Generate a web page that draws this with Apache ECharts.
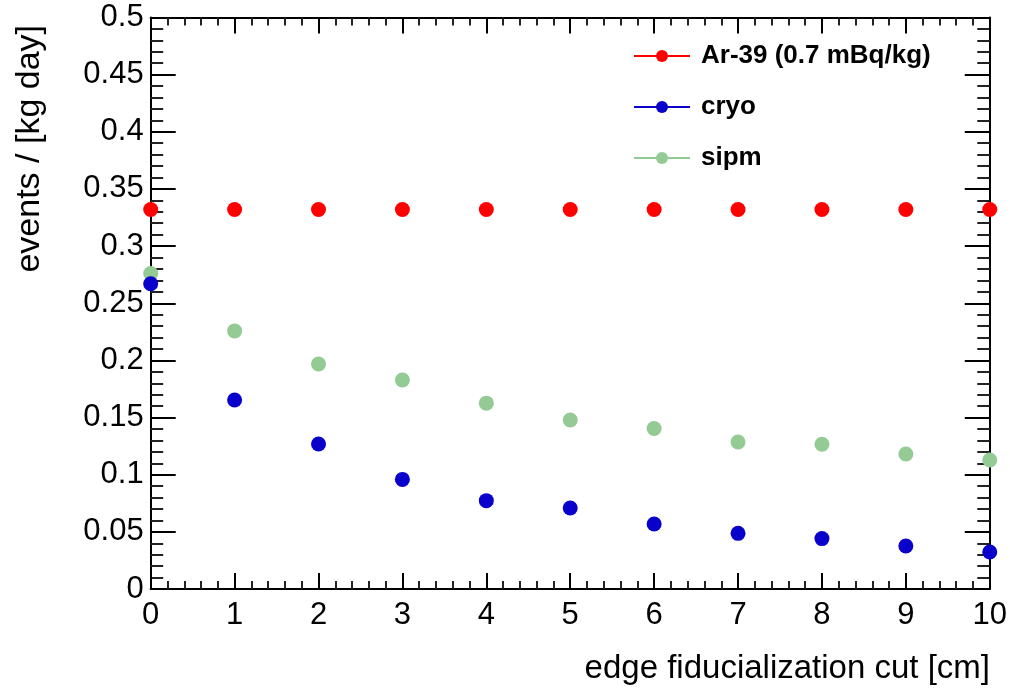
<!DOCTYPE html>
<html>
<head>
<meta charset="utf-8">
<script src="https://cdn.jsdelivr.net/npm/echarts@6/dist/echarts.min.js"></script>
<style>
  html, body { margin: 0; padding: 0; background: #fff; }
  #chart { width: 1010px; height: 689px; }
</style>
</head>
<body>
<div id="chart"></div>
<script>
// Edge fiducialization cut (cm)
const cutValues = [0, 1, 2, 3, 4, 5, 6, 7, 8, 9, 10];
// Event rates, events / [kg day]
const ar39Rate = [0.332, 0.332, 0.332, 0.332, 0.332, 0.332, 0.332, 0.332, 0.332, 0.332, 0.332];
const cryoRate = [0.267, 0.1654, 0.1268, 0.0959, 0.0773, 0.0709, 0.0569, 0.0487, 0.0441, 0.0376, 0.0324];
const sipmRate = [0.276, 0.2258, 0.1969, 0.1828, 0.1626, 0.1479, 0.1404, 0.1286, 0.1266, 0.1181, 0.1129];
const seriesNames = ['Ar-39 (0.7 mBq/kg)', 'cryo', 'sipm'];
const xTitle = 'edge fiducialization cut [cm]';
const yTitle = 'events / [kg day]';

const FONT = '"Liberation Sans", Arial, Helvetica, sans-serif';
const colors = ['#ff0000', '#0a00cc', '#94ca94'];

const pairs = ys => cutValues.map((x, i) => [x, ys[i]]);

// One side of the frame: axis line plus inward-pointing major and minor ticks
function frameAxis(range, position, majorLen, showLabels) {
  return Object.assign({}, range, {
    type: 'value',
    position: position,
    axisLine: { show: true, onZero: false, lineStyle: { color: '#000', width: 2 } },
    axisTick: { show: true, inside: true, length: majorLen, lineStyle: { color: '#000', width: 2 } },
    minorTick: { show: true, splitNumber: 5, length: majorLen / 2, lineStyle: { color: '#222', width: 2 } },
    splitLine: { show: false },
    minorSplitLine: { show: false },
    axisLabel: showLabels
      ? { show: true, color: '#000', fontSize: 31, fontFamily: FONT,
          margin: (position === 'bottom' ? 11 : 7) }
      : { show: false }
  });
}

const chart = echarts.init(document.getElementById('chart'), null, { renderer: 'canvas' });

const xRange = { min: 0, max: 10, interval: 1 };
const yRange = { min: 0, max: 0.5, interval: 0.05 };

chart.setOption({
  backgroundColor: '#fff',
  animation: false,
  grid: { left: 150.7, right: 17.3, top: 17.5, bottom: 100, containLabel: false },
  xAxis: [
    frameAxis(xRange, 'bottom', 16, true),
    frameAxis(xRange, 'top', 16, false)
  ],
  yAxis: [
    frameAxis(yRange, 'left', 25, true),
    frameAxis(yRange, 'right', 25, false)
  ],
  legend: {
    orient: 'vertical',
    left: 633,
    top: 43,
    padding: 0,
    itemWidth: 56,
    itemHeight: 15,
    itemGap: 25,
    data: seriesNames,
    textStyle: { color: '#000', fontSize: 26, fontWeight: 'bold', fontFamily: FONT, padding: [0, 0, 0, 6] },
    lineStyle: { opacity: 1, width: 2 }
  },
  series: [ar39Rate, cryoRate, sipmRate].map((ys, i) => ({
    name: seriesNames[i],
    type: 'line',
    data: pairs(ys),
    symbol: 'circle',
    symbolSize: 15,
    showAllSymbol: true,
    color: colors[i],
    itemStyle: { color: colors[i] },
    lineStyle: { color: colors[i], opacity: 0, width: 2 },
    emphasis: { disabled: true },
    z: 3 + (2 - i)
  })),
  graphic: [
    {
      type: 'text',
      x: 990, y: 669,
      style: { text: xTitle, fill: '#000', font: '33px ' + FONT, textAlign: 'right', textVerticalAlign: 'middle' }
    },
    {
      type: 'text',
      x: 30, y: 25,
      rotation: Math.PI / 2,
      style: { text: yTitle, fill: '#000', font: '34px ' + FONT, textAlign: 'right', textVerticalAlign: 'middle' }
    }
  ]
});
</script>
</body>
</html>
